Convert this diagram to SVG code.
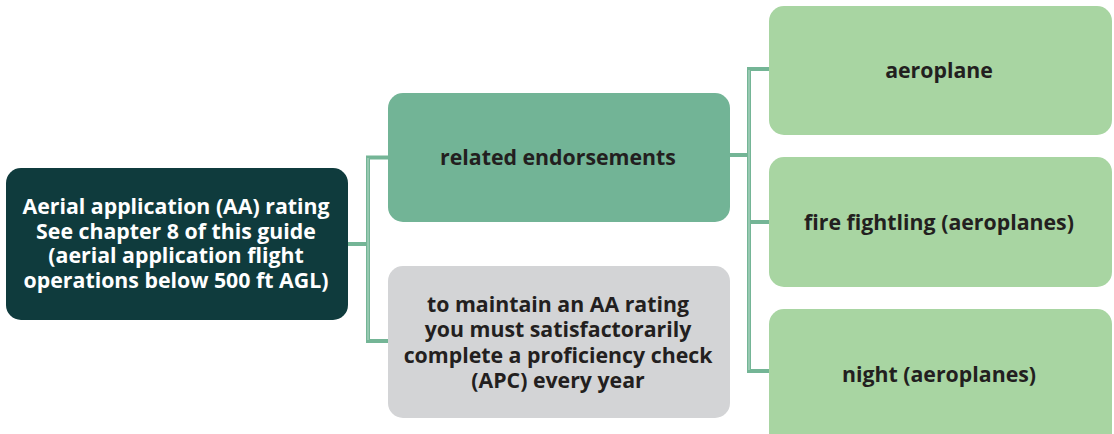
<svg xmlns="http://www.w3.org/2000/svg" width="1114" height="434" viewBox="0 0 1114 434">
<style>
text{font-family:"Open Sans","Noto Sans","Liberation Sans",sans-serif;font-weight:bold;font-size:21.3px;text-anchor:middle;fill:#231f20}
.w{fill:#ffffff}
.c{fill:none;stroke:#74b596;stroke-width:4}
.ci{fill:none;stroke:#b9dccb;stroke-width:1}
</style>
<rect width="1114" height="434" fill="#ffffff"/>
<g id="connectors">
<path class="c" d="M348 244H368M388 157.5H368V341H388M730 155H749M769 69H749V371H769M749 222H769"/>
<path class="ci" d="M368 158V340M749 70V370"/>
</g>
<g id="aa-rating">
<rect x="6" y="168" width="342" height="152" rx="15" fill="#0f3b3d"/>
<text class="w" x="176" y="214">Aerial application (AA) rating</text>
<text class="w" x="176" y="238.5">See chapter 8 of this guide</text>
<text class="w" x="176" y="263">(aerial application flight</text>
<text class="w" x="176" y="287.5">operations below 500 ft AGL)</text>
</g>
<g id="related-endorsements">
<rect x="388" y="93" width="342" height="129" rx="15" fill="#72b496"/>
<text x="558" y="164.5">related endorsements</text>
</g>
<g id="maintain">
<rect x="388" y="266" width="342" height="152" rx="15" fill="#d3d4d6"/>
<text x="558" y="312">to maintain an AA rating</text>
<text x="558" y="337">you must satisfactorarily</text>
<text x="558" y="362.5">complete a proficiency check</text>
<text x="558" y="388">(APC) every year</text>
</g>
<g id="aeroplane">
<rect x="769" y="6" width="343" height="129" rx="15" fill="#a8d5a2"/>
<text x="939" y="77.5">aeroplane</text>
</g>
<g id="fire-fighting">
<rect x="769" y="157" width="343" height="130" rx="15" fill="#a8d5a2"/>
<text x="939" y="229.5">fire fightling (aeroplanes)</text>
</g>
<g id="night">
<rect x="769" y="309" width="343" height="140" rx="15" fill="#a8d5a2"/>
<text x="939" y="381.5">night (aeroplanes)</text>
</g>
</svg>
